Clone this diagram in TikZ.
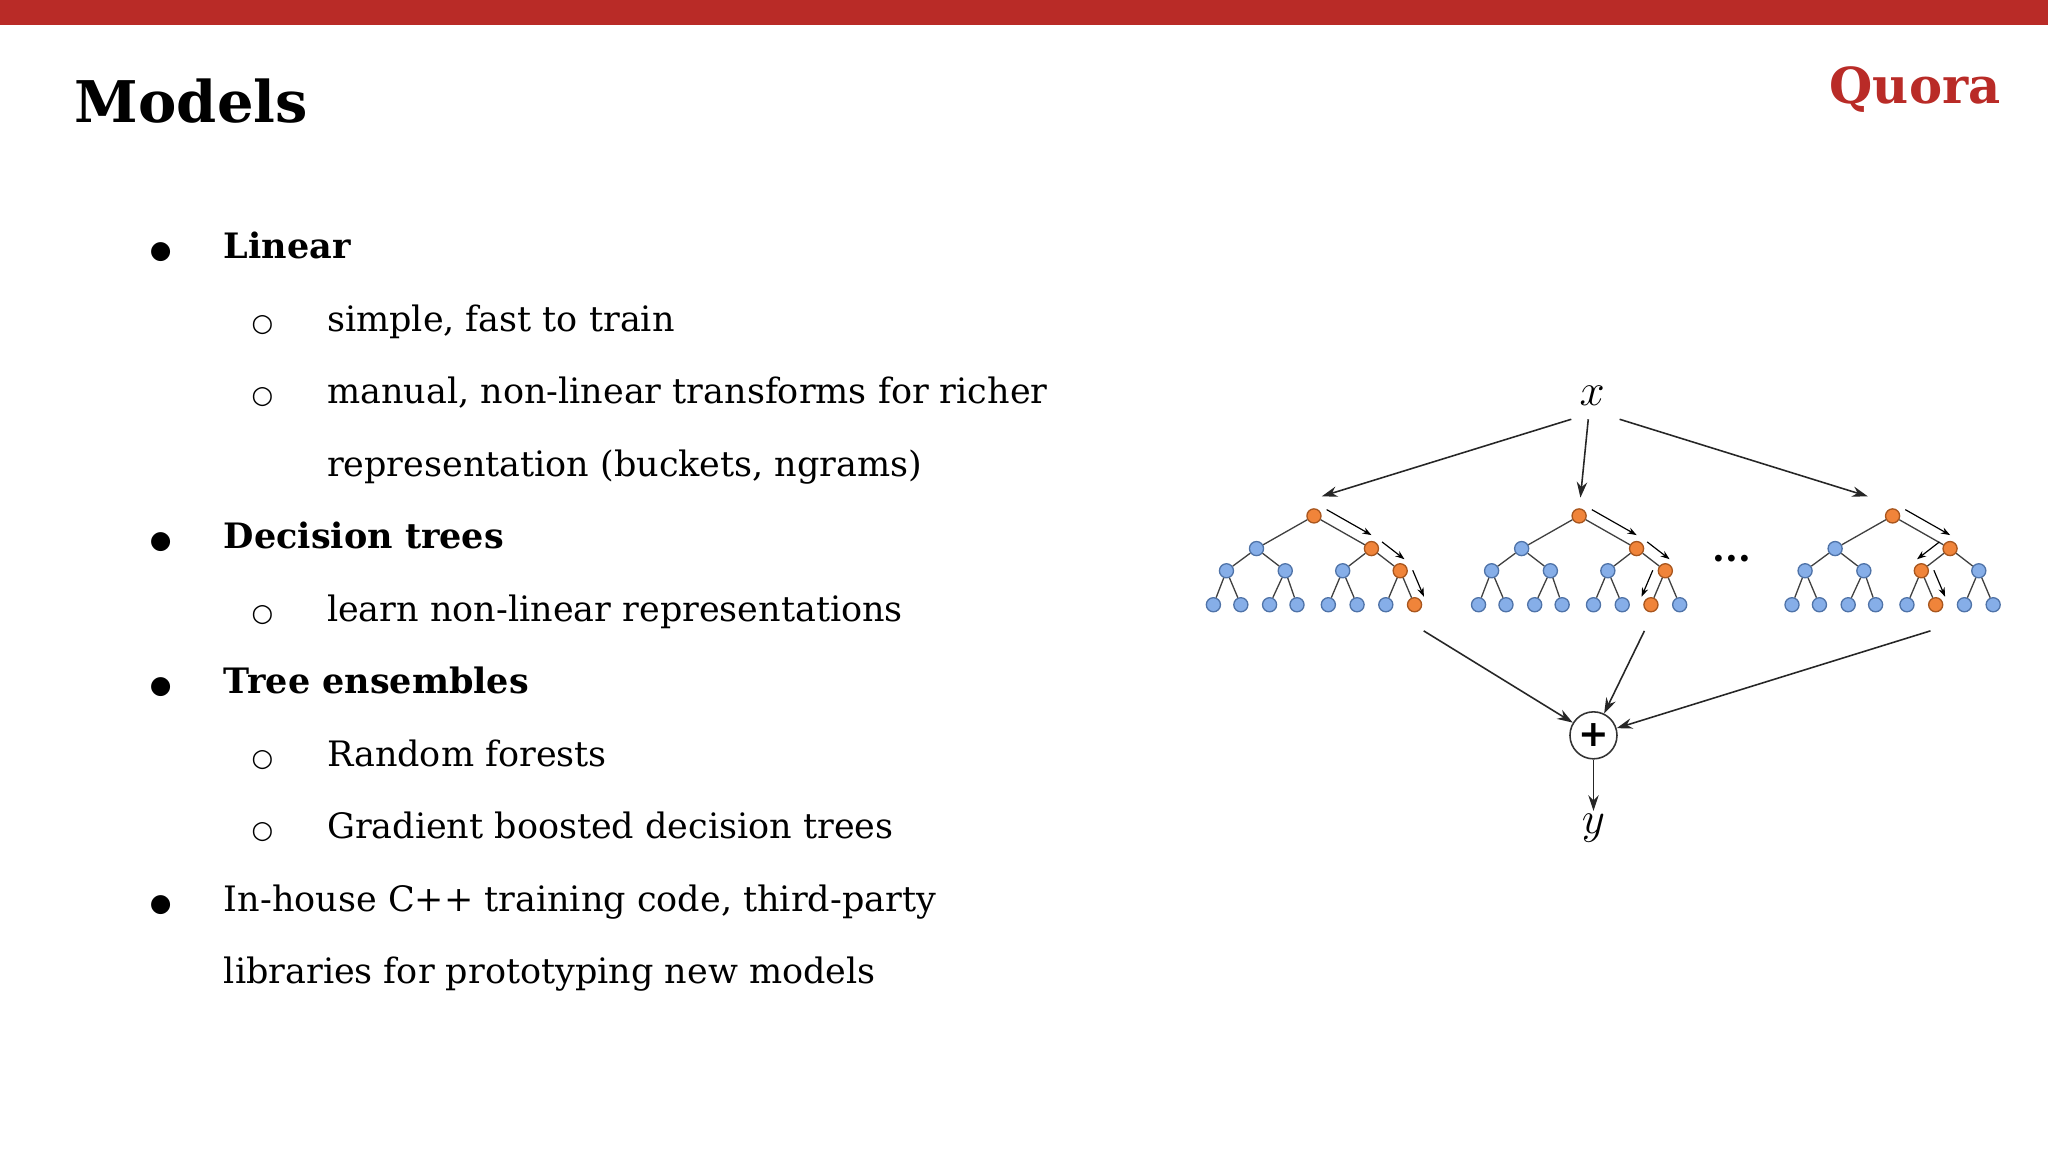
\documentclass[tikz,border=0pt]{standalone}
\usepackage{fontspec}
\setmainfont{DejaVu Serif}
\newfontfamily\symf{DejaVu Sans}
\usetikzlibrary{calc,arrows.meta}
\definecolor{qred}{HTML}{B92B27}
\definecolor{nblue}{HTML}{86AEE8}
\definecolor{nblueb}{HTML}{4F73A8}
\definecolor{norg}{HTML}{F0843A}
\definecolor{norgb}{HTML}{A8561E}
\tikzset{
 tn/.style={circle,draw=nblueb,fill=nblue,line width=0.5pt,minimum size=5.4pt,inner sep=0pt},
 orn/.style={draw=norgb,fill=norg},
 k-r/.style={},k-a/.style={},k-b/.style={},k-aa/.style={},k-ab/.style={},k-ba/.style={},k-bb/.style={},
 k-aaa/.style={},k-aab/.style={},k-aba/.style={},k-abb/.style={},k-baa/.style={},k-bab/.style={},k-bba/.style={},k-bbb/.style={},
 edge/.style={draw=black!75,line width=0.5pt},
 sarr/.style={-{Stealth[length=3.5pt,width=2.5pt]},line width=0.45pt},
 barr/.style={-{Stealth[length=6pt,width=4pt]},line width=0.6pt,black!85},
 bul/.style={anchor=base,font=\symf\fontsize{9.5}{13}\selectfont},
 txt/.style={anchor=base west,font=\fontsize{13.4}{15}\selectfont},
 btxt/.style={anchor=base west,font=\bfseries\fontsize{13.4}{15}\selectfont},
}
\newcommand\onetree{%
 \node[tn,k-r] (r) at (1006,395) {};
 \node[tn,k-a] (a) at (962,420) {};
 \node[tn,k-b] (b) at (1050,420) {};
 \node[tn,k-aa] (aa) at (939,437) {};
 \node[tn,k-ab] (ab) at (984,437) {};
 \node[tn,k-ba] (ba) at (1028,437) {};
 \node[tn,k-bb] (bb) at (1072,437) {};
 \node[tn,k-aaa] (aaa) at (929,463) {};
 \node[tn,k-aab] (aab) at (950,463) {};
 \node[tn,k-aba] (aba) at (972,463) {};
 \node[tn,k-abb] (abb) at (993,463) {};
 \node[tn,k-baa] (baa) at (1017,463) {};
 \node[tn,k-bab] (bab) at (1039,463) {};
 \node[tn,k-bba] (bba) at (1061,463) {};
 \node[tn,k-bbb] (bbb) at (1083,463) {};
 \draw[edge] (r)--(a) (r)--(b) (a)--(aa) (a)--(ab) (b)--(ba) (b)--(bb)
  (aa)--(aaa) (aa)--(aab) (ab)--(aba) (ab)--(abb) (ba)--(baa) (ba)--(bab) (bb)--(bba) (bb)--(bbb);
}
\newcommand\sa[3]{\draw[sarr] ($(#1)!0.12!(#2)!4.5pt!#3:(#2)$) -- ($(#2)!0.1!(#1)!4.5pt!-#3:(#1)$);}
\begin{document}
\begin{tikzpicture}[x=0.5pt,y=-0.5pt]
\useasboundingbox (0,0) rectangle (1568,882);
\fill[white] (0,0) rectangle (1568,882);
\fill[qred] (0,0) rectangle (1568,19);
\node[anchor=base west,font=\bfseries\fontsize{22}{24}\selectfont,inner sep=0] (title) at (57,94) {Models};
\node[anchor=base east,font=\bfseries\fontsize{19}{22}\selectfont,text=qred,inner sep=0] (logo) at (1532,79) {Quora};
\foreach \y/\t in {198/Linear,420/Decision trees,531/Tree ensembles}{
 \node[bul] at (123,\y) {●};
 \node[btxt,inner sep=0] at (171,\y) {\t};}
\foreach \y/\t in {254/{simple, fast to train},309/{manual, non-linear transforms for richer},476/{learn non-linear representations},587/{Random forests},642/{Gradient boosted decision trees}}{
 \node[bul] at (201,\y) {○};
 \node[txt,inner sep=0] at (250,\y) {\t};}
\node[txt,inner sep=0] at (250,365) {representation (buckets, ngrams)};
\node[bul] at (123,698) {●};
\node[txt,inner sep=0] at (171,698) {In-house C++ training code, third-party};
\node[txt,inner sep=0] at (171,753) {libraries for prototyping new models};
\begin{scope}[name prefix=t1-,k-r/.style=orn,k-b/.style=orn,k-bb/.style=orn,k-bbb/.style=orn]
 \onetree \sa{r}{b}{90}\sa{b}{bb}{90}\sa{bb}{bbb}{90}
\end{scope}
\begin{scope}[xshift=101.5pt,name prefix=t2-,k-r/.style=orn,k-b/.style=orn,k-bb/.style=orn,k-bba/.style=orn]
 \onetree \sa{r}{b}{90}\sa{b}{bb}{90}\sa{bb}{bba}{-90}
\end{scope}
\begin{scope}[xshift=221.5pt,name prefix=t3-,k-r/.style=orn,k-b/.style=orn,k-ba/.style=orn,k-bab/.style=orn]
 \onetree \sa{r}{b}{90}\sa{b}{ba}{-90}\sa{ba}{bab}{90}
\end{scope}
\node[font=\bfseries\fontsize{14}{14}\selectfont] (dots) at (1326,428) {...};
\node[font=\fontsize{19}{19}\selectfont,inner sep=1pt] (x) at (1219,303) {$x$};
\node[circle,draw=black!80,line width=0.6pt,minimum size=18pt,inner sep=0,font=\symf\bfseries\fontsize{14}{14}\selectfont] (plus) at (1220,563) {+};
\node[font=\fontsize{19}{19}\selectfont,inner sep=1pt] (y) at (1220,634) {$y$};
\coordinate (i1) at (1012,380); \coordinate (i2) at (1210,381); \coordinate (i3) at (1430,380);
\coordinate (o1) at (1090,483); \coordinate (o2) at (1259,483); \coordinate (o3) at (1478,483);
\coordinate (x1) at (1203,321); \coordinate (x2) at (1216,321); \coordinate (x3) at (1240,321);
\draw[barr] (x1) -- (i1); \draw[barr] (x2) -- (i2); \draw[barr] (x3) -- (i3);
\draw[barr] (o1) -- (plus); \draw[barr] (o2) -- (plus); \draw[barr] (o3) -- (plus);
\draw[barr] (plus) -- (y);
\end{tikzpicture}
\end{document}
